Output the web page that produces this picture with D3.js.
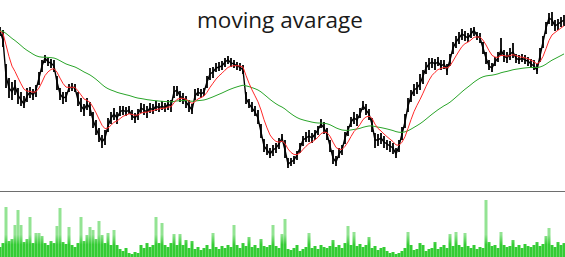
<!DOCTYPE html>
<html>
<head>
<meta charset="utf-8">
<script src="https://cdn.jsdelivr.net/npm/d3@7"></script>
<style>
body { margin: 0; background: #ffffff; }
.text_headline { font-family: "Open Sans", sans-serif; font-size: 22.5px; }
</style>
</head>
<body>
<div id="canvas_ma"></div>
<script>
// ----------------------------------------------------------
// DATA -----------------------------------------------------
// ----------------------------------------------------------
var price_close = [
169,160,124,112,108,114,105,100,96,104,
108,105,110,122,134,142,138,137,134,118,
106,102,103,112,113,112,100,94,90,96,
92,80,72,64,58,62,74,82,86,82,
88,90,88,90,84,82,86,92,90,88,
92,90,94,92,94,92,96,94,108,110,
104,102,98,94,90,104,108,106,108,118,
126,128,132,133,134,138,140,137,136,134,
133,130,102,96,92,88,82,68,54,50,
46,50,52,56,62,50,36,38,40,45,
52,60,62,64,62,66,70,76,72,66,
54,42,38,46,50,62,70,78,82,80,
86,94,90,86,76,60,60,62,58,56,
54,52,46,54,66,78,94,104,110,112,
116,124,132,136,138,136,138,134,136,130,
140,152,158,162,166,164,162,166,170,164,
162,152,142,134,132,138,142,150,144,142,
146,148,142,140,142,140,139,136,134,130,
144,158,172,182,180,174,176,178,180];

var price_high = [
173,170,136,122,118,120,112,108,104,112,
113,111,115,128,140,145,142,141,140,124,
112,108,108,116,117,116,108,102,96,102,
98,88,80,72,65,70,82,88,92,88,
94,94,93,94,90,87,91,97,96,94,
97,96,99,97,99,97,100,100,114,114,
109,107,104,100,96,111,112,111,112,124,
132,133,137,138,139,142,144,142,140,138,
137,135,108,101,98,94,90,76,61,56,
52,55,57,62,66,60,42,42,44,49,
57,64,68,70,67,70,74,81,78,72,
60,50,44,52,55,68,74,83,88,86,
92,99,96,91,82,67,66,67,64,60,
59,57,52,60,73,86,102,110,116,118,
126,130,138,142,142,141,143,140,140,136,
146,158,164,168,171,169,167,172,173,168,
167,158,148,140,137,143,148,162,150,148,
152,157,146,145,146,145,143,141,140,136,
152,164,178,187,188,180,181,183,185];

var price_low = [
164,153,112,102,100,105,96,94,92,98,
102,100,103,115,128,137,134,132,128,110,
100,96,98,108,109,108,94,88,84,90,
84,72,65,58,52,55,68,76,80,76,
84,85,84,86,80,77,80,87,85,82,
87,86,89,88,90,88,90,88,102,104,
98,96,92,88,86,100,104,102,104,112,
120,122,128,129,130,133,136,133,132,130,
129,126,96,92,88,84,76,62,48,45,
42,44,47,51,58,42,32,34,36,40,
47,54,58,58,57,60,65,72,66,60,
48,36,34,42,45,56,64,73,76,74,
82,90,85,80,68,52,54,56,52,50,
48,46,42,48,60,72,88,98,104,106,
110,116,126,130,132,130,134,130,131,125,
134,146,152,156,160,159,158,162,164,160,
157,146,136,130,128,134,138,144,138,137,
140,142,137,136,138,136,134,132,130,126,
138,152,166,176,174,169,170,173,174];

var volume = [
10,14,50,16,18,32,47,32,15,18,
40,14,24,24,21,14,12,16,14,31,
49,15,13,30,12,10,14,40,16,22,
30,27,18,36,22,14,24,12,27,12,
8,6,9,4,3,5,4,12,9,14,
10,12,40,14,34,12,10,14,23,12,
23,12,17,9,16,8,10,7,9,12,
8,24,10,8,11,9,12,10,32,12,
9,14,11,20,10,12,9,18,11,10,
12,32,11,9,23,38,8,7,9,12,
6,8,10,24,9,11,8,12,10,9,
11,17,10,12,9,14,31,12,25,11,
13,10,12,20,9,11,7,9,10,6,
4,5,3,4,6,9,25,12,7,8,
14,12,6,8,9,15,8,10,12,9,
23,11,25,12,10,24,11,9,12,8,
10,9,57,15,11,12,9,25,12,10,
11,17,10,12,9,13,11,10,12,15,
11,13,21,29,12,10,15,12,14];

// trading day index
var days = price_close.map(function(d, i) { return i; });

var text_headline = "moving avarage";

// ----------------------------------------------------------
// SETTINGS -------------------------------------------------
// ----------------------------------------------------------
var data_set_ma =
{
container_width: 565,
container_height: 257,
price_top: 0,
price_bottom: 190,
volume_top: 195,
volume_bottom: 257,
separator_y: 191.5,
position_headline: 28,
alpha_fast: 0.27,
alpha_slow: 0.045,
color_bg: "#ffffff",
color_price: "#000000",
color_ma_fast: "#ff2a2a",
color_ma_slow: "#2aa52a",
color_volume_dark: "#34cc34",
color_volume_light: "#93e393",
color_separator: "#6e6e6e",
color_text_headline: "#1a1a1a"
};

// ----------------------------------------------------------
// STRUCTURE ------------------------------------------------
// ----------------------------------------------------------
var container_ma = d3.select("#canvas_ma").append("svg")
.attr("width", data_set_ma.container_width)
.attr("height", data_set_ma.container_height)
.style("display", "block")
.style("background-color", data_set_ma.color_bg);

// volume shading: solid near the floor, paler on the spikes
var grad_ma = container_ma.append("defs").append("linearGradient")
.attr("id", "vol_grad")
.attr("gradientUnits", "userSpaceOnUse")
.attr("x1", 0).attr("x2", 0)
.attr("y1", data_set_ma.volume_bottom)
.attr("y2", data_set_ma.volume_top);
grad_ma.append("stop").attr("offset", 0).attr("stop-color", data_set_ma.color_volume_dark);
grad_ma.append("stop").attr("offset", 0.2).attr("stop-color", data_set_ma.color_volume_dark);
grad_ma.append("stop").attr("offset", 0.36).attr("stop-color", data_set_ma.color_volume_light);
grad_ma.append("stop").attr("offset", 1).attr("stop-color", data_set_ma.color_volume_light);

var volume_group_ma = container_ma.append("g").attr("class", "volume_group");
var price_group_ma = container_ma.append("g").attr("class", "price_group");
var ma_group_ma = container_ma.append("g").attr("class", "ma_group");
var text_group_ma = container_ma.append("g").attr("class", "text_group");

// ----------------------------------------------------------
// SCALES & SETUP -------------------------------------------
// ----------------------------------------------------------
var x_ma = d3.scaleLinear()
.domain([0, days.length - 1])
.range([0, 564]);

var y_price_ma = d3.scaleLinear()
.domain([10, 200])
.range([data_set_ma.price_bottom, data_set_ma.price_top]);

var y_volume_ma = d3.scaleLinear()
.domain([0, 62])
.range([data_set_ma.volume_bottom, data_set_ma.volume_top]);

// exponential moving average, seeded with the first close
function ema(values, alpha) {
var out = [], prev = values[0];
values.forEach(function(v, i) {
prev = i === 0 ? v : prev + alpha * (v - prev);
out.push(prev);
});
return out;
}

var ma_fast = ema(price_close, data_set_ma.alpha_fast);
var ma_slow = ema(price_close, data_set_ma.alpha_slow);

var line_ma = d3.line()
.x(function(d, i) { return x_ma(days[i]); })
.y(function(d) { return y_price_ma(d); });

// ----------------------------------------------------------
// GFX ------------------------------------------------------
// ----------------------------------------------------------
// volume bars
volume_group_ma.selectAll(".vol")
.data(volume)
.enter()
.append("rect")
.attr("class", "vol")
.attr("x", function(d, i) { return x_ma(days[i]) - 1.5; })
.attr("width", 3)
.attr("y", function(d) { return y_volume_ma(d); })
.attr("height", function(d) { return y_volume_ma(0) - y_volume_ma(d); })
.style("fill", "url(#vol_grad)");

// separator
container_ma.append("line")
.attr("x1", 0)
.attr("x2", data_set_ma.container_width)
.attr("y1", data_set_ma.separator_y)
.attr("y2", data_set_ma.separator_y)
.style("stroke", data_set_ma.color_separator)
.style("stroke-width", 1);

// high - low bars
price_group_ma.selectAll(".hl")
.data(days)
.enter()
.append("line")
.attr("class", "hl")
.attr("x1", function(d) { return x_ma(d); })
.attr("x2", function(d) { return x_ma(d); })
.attr("y1", function(d) { return y_price_ma(price_high[d]); })
.attr("y2", function(d) { return y_price_ma(price_low[d]); })
.style("stroke", data_set_ma.color_price)
.style("stroke-width", 1.8);

// close line
price_group_ma.append("path")
.datum(price_close)
.attr("d", line_ma)
.style("fill", "none")
.style("stroke", data_set_ma.color_price)
.style("stroke-width", 1.4);

// moving averages
ma_group_ma.append("path")
.datum(ma_slow)
.attr("d", line_ma)
.style("fill", "none")
.style("stroke", data_set_ma.color_ma_slow)
.style("stroke-width", 1);

ma_group_ma.append("path")
.datum(ma_fast)
.attr("d", line_ma)
.style("fill", "none")
.style("stroke", data_set_ma.color_ma_fast)
.style("stroke-width", 1);

// ----------------------------------------------------------
// TEXT -----------------------------------------------------
// ----------------------------------------------------------
text_group_ma.append("text")
.attr("class", "text_headline")
.attr("x", 280)
.attr("y", data_set_ma.position_headline)
.attr("text-anchor", "middle")
.text(text_headline)
.style("fill", data_set_ma.color_text_headline);
</script>
</body>
</html>
